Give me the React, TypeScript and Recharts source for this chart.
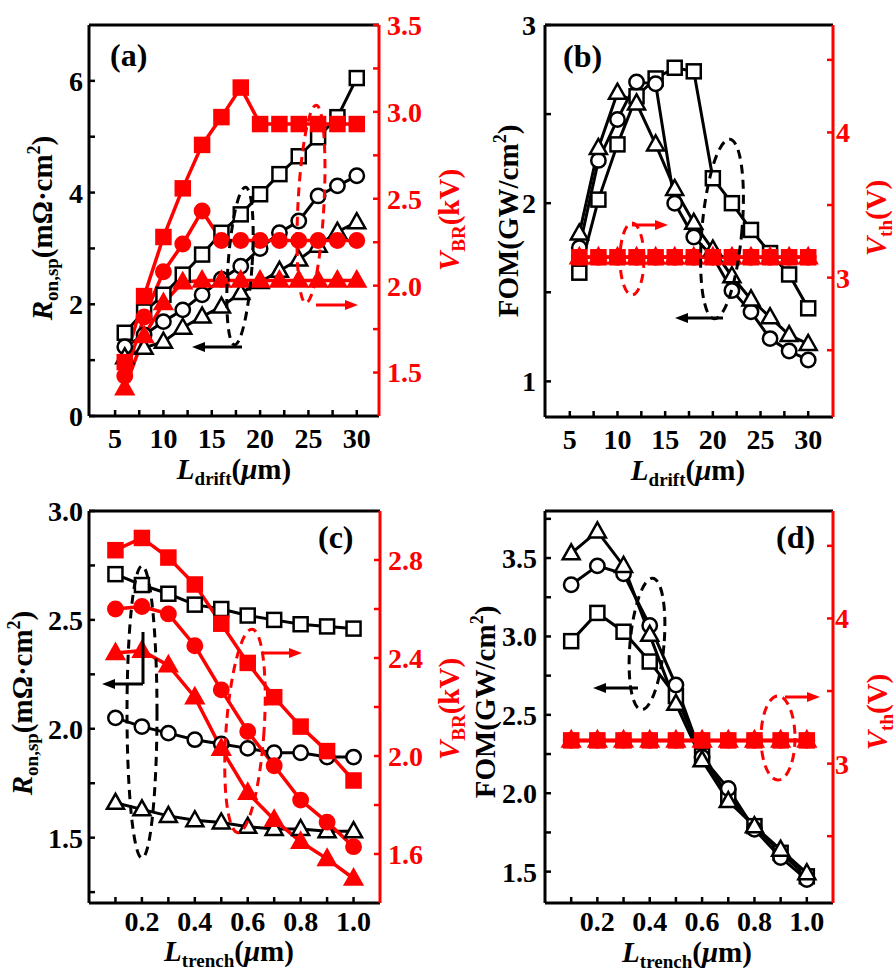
import React from 'react';
import { LineChart, Line, XAxis, YAxis } from 'recharts';

const FONT = '"Liberation Serif", "Times New Roman", serif';
const RED = '#ff0000';
const BLACK = '#000000';

// ---- (a)/(b): drift length sweep ----
const driftX = [6, 8, 10, 12, 14, 16, 18, 20, 22, 24, 26, 28, 30];
const ronDriftSq = [1.49, 1.87, 2.17, 2.53, 2.89, 3.28, 3.61, 3.97, 4.33, 4.65, 4.99, 5.35, 6.05];
const ronDriftCi = [1.24, 1.45, 1.69, 1.9, 2.17, 2.45, 2.68, 3.0, 3.28, 3.49, 3.94, 4.12, 4.3];
const ronDriftTr = [1.05, 1.22, 1.33, 1.58, 1.78, 1.96, 2.2, 2.4, 2.6, 2.8, 3.05, 3.3, 3.47];
const vbrDriftSq = [1.56, 1.94, 2.28, 2.56, 2.81, 2.97, 3.14, 2.93, 2.93, 2.93, 2.93, 2.93, 2.93];
const vbrDriftCi = [1.48, 1.82, 2.08, 2.24, 2.43, 2.26, 2.26, 2.26, 2.26, 2.26, 2.26, 2.26, 2.26];
const vbrDriftTr = [1.41, 1.71, 1.9, 2.02, 2.03, 2.03, 2.03, 2.03, 2.03, 2.03, 2.03, 2.03, 2.03];
const fomDriftSq = [1.61, 2.02, 2.33, 2.6, 2.7, 2.76, 2.74, 2.14, 2.0, 1.85, 1.72, 1.6, 1.41];
const fomDriftCi = [1.75, 2.24, 2.47, 2.68, 2.67, 2.0, 1.81, 1.7, 1.51, 1.39, 1.24, 1.17, 1.12];
const fomDriftTr = [1.83, 2.31, 2.62, 2.56, 2.33, 2.08, 1.89, 1.74, 1.59, 1.46, 1.36, 1.26, 1.21];
const vthDriftSq = [3.14, 3.14, 3.14, 3.14, 3.14, 3.14, 3.14, 3.14, 3.14, 3.14, 3.14, 3.14, 3.14];
const vthDriftCi = [3.14, 3.14, 3.14, 3.14, 3.14, 3.14, 3.14, 3.14, 3.14, 3.14, 3.14, 3.14, 3.14];
const vthDriftTr = [3.14, 3.14, 3.14, 3.14, 3.14, 3.14, 3.14, 3.14, 3.14, 3.14, 3.14, 3.14, 3.14];

// ---- (c)/(d): trench length sweep ----
const trenchX = [0.1, 0.2, 0.3, 0.4, 0.5, 0.6, 0.7, 0.8, 0.9, 1.0];
const ronTrenchSq = [2.71, 2.66, 2.62, 2.57, 2.55, 2.52, 2.5, 2.48, 2.47, 2.46];
const ronTrenchCi = [2.05, 2.01, 1.98, 1.95, 1.93, 1.91, 1.89, 1.89, 1.87, 1.87];
const ronTrenchTr = [1.66, 1.63, 1.6, 1.58, 1.57, 1.55, 1.54, 1.54, 1.53, 1.53];
const vbrTrenchSq = [2.84, 2.89, 2.81, 2.7, 2.54, 2.38, 2.24, 2.12, 2.02, 1.9];
const vbrTrenchCi = [2.6, 2.61, 2.58, 2.45, 2.27, 2.1, 1.96, 1.82, 1.73, 1.63];
const vbrTrenchTr = [2.42, 2.43, 2.37, 2.24, 2.03, 1.85, 1.74, 1.65, 1.58, 1.5];
const fomTrenchSq = [2.97, 3.15, 3.03, 2.84, 2.62, 2.24, 1.98, 1.79, 1.62, 1.47];
const fomTrenchCi = [3.33, 3.45, 3.4, 3.07, 2.69, 2.23, 2.03, 1.77, 1.59, 1.45];
const fomTrenchTr = [3.53, 3.67, 3.45, 3.01, 2.57, 2.21, 1.95, 1.79, 1.64, 1.49];
const vthTrenchSq = [3.16, 3.16, 3.16, 3.16, 3.16, 3.16, 3.16, 3.16, 3.16, 3.16];
const vthTrenchCi = [3.16, 3.16, 3.16, 3.16, 3.16, 3.16, 3.16, 3.16, 3.16, 3.16];
const vthTrenchTr = [3.16, 3.16, 3.16, 3.16, 3.16, 3.16, 3.16, 3.16, 3.16, 3.16];

// ---- ticks (major = labelled, minor = blank) ----
const driftMajor = [5, 10, 15, 20, 25, 30];
const driftMinor = [7.5, 12.5, 17.5, 22.5, 27.5];
const trenchMajor = [0.2, 0.4, 0.6, 0.8, 1.0];
const trenchMinor = [0.1, 0.3, 0.5, 0.7, 0.9];
const aLeftMajor = [0, 2, 4, 6];
const aLeftMinor = [1, 3, 5];
const aRightMajor = [1.5, 2.0, 2.5, 3.0, 3.5];
const aRightMinor = [1.75, 2.25, 2.75, 3.25];
const bLeftMajor = [1, 2, 3];
const bLeftMinor = [1.5, 2.5];
const vthMajor = [3, 4];
const vthMinor = [2.5, 3.5, 4.5];
const cLeftMajor = [1.5, 2.0, 2.5, 3.0];
const cLeftMinor = [1.25, 1.75, 2.25, 2.75];
const cRightMajor = [1.6, 2.0, 2.4, 2.8];
const cRightMinor = [1.8, 2.2, 2.6];
const dLeftMajor = [1.5, 2.0, 2.5, 3.0, 3.5];
const dLeftMinor = [1.75, 2.25, 2.75, 3.25, 3.75];

type Shape = 'square' | 'circle' | 'triangle';
interface Series { key: string; axis: 'l' | 'r'; color: string; shape: Shape; filled: boolean }

const zip = (xs: number[], cols: Record<string, number[]>) =>
  xs.map((x, i) => {
    const row: Record<string, number> = { x };
    Object.keys(cols).forEach((k) => { row[k] = cols[k][i]; });
    return row;
  });

const makeDot = (shape: Shape, color: string, filled: boolean) => (props: any) => {
  const { cx, cy, index } = props;
  const k = `d${index}`;
  if (cx == null || cy == null) return <g key={k} />;
  const fill = filled ? color : '#ffffff';
  const sw = 2.5;
  if (shape === 'square')
    return <rect key={k} x={cx - 7} y={cy - 7} width={14} height={14} fill={fill} stroke={color} strokeWidth={sw} />;
  if (shape === 'circle')
    return <circle key={k} cx={cx} cy={cy} r={7.2} fill={fill} stroke={color} strokeWidth={sw} />;
  return (
    <polygon key={k} points={`${cx},${cy - 9} ${cx - 8.5},${cy + 6} ${cx + 8.5},${cy + 6}`}
      fill={fill} stroke={color} strokeWidth={sw} strokeLinejoin="miter" />
  );
};

const blackSet = (sq: string, ci: string, tr: string): Series[] => [
  { key: sq, axis: 'l', color: BLACK, shape: 'square', filled: false },
  { key: ci, axis: 'l', color: BLACK, shape: 'circle', filled: false },
  { key: tr, axis: 'l', color: BLACK, shape: 'triangle', filled: false },
];
const redSet = (sq: string, ci: string, tr: string): Series[] => [
  { key: sq, axis: 'r', color: RED, shape: 'square', filled: true },
  { key: ci, axis: 'r', color: RED, shape: 'circle', filled: true },
  { key: tr, axis: 'r', color: RED, shape: 'triangle', filled: true },
];

interface PanelProps {
  left: number; top: number;
  plot: { l: number; r: number; t: number; b: number };
  data: Record<string, number>[];
  series: Series[];
  xDomain: number[]; xMajor: number[]; xMinor: number[]; xFmt: (v: number) => string; xMargin: number;
  lDomain: number[]; lMajor: number[]; lMinor: number[]; lFmt: (v: number) => string; lMargin: number;
  rDomain: number[]; rMajor: number[]; rMinor: number[]; rFmt: (v: number) => string; rMargin: number;
}

const tickFont = { fontSize: 28, fontFamily: FONT, fontWeight: 'bold' as const };
const sortNum = (a: number[]) => [...a].sort((p, q) => p - q);

const Panel: React.FC<PanelProps> = (p) => {
  const fmt = (major: number[], f: (v: number) => string) => (v: number) => (major.includes(v) ? f(v) : '');
  return (
    <div style={{ position: 'absolute', left: p.left, top: p.top, width: 448, height: 488 }}>
      <LineChart width={448} height={488} data={p.data}
        margin={{ top: p.plot.t - 1, right: 0, bottom: 0, left: 0 }}>
        <XAxis xAxisId="b" dataKey="x" type="number" domain={p.xDomain} allowDataOverflow
          ticks={sortNum([...p.xMajor, ...p.xMinor])} interval={0} height={p.plot.b}
          tickSize={-6} tickMargin={p.xMargin} tickFormatter={fmt(p.xMajor, p.xFmt)}
          axisLine={{ stroke: BLACK, strokeWidth: 3 }} tickLine={{ stroke: BLACK, strokeWidth: 2.5 }}
          tick={{ ...tickFont, fill: BLACK }} />
        <XAxis xAxisId="t" orientation="top" dataKey="x" type="number" domain={p.xDomain} allowDataOverflow
          height={1} tick={false} tickLine={false} axisLine={{ stroke: BLACK, strokeWidth: 3 }} />
        <YAxis yAxisId="l" type="number" domain={p.lDomain} allowDataOverflow width={p.plot.l}
          ticks={sortNum([...p.lMajor, ...p.lMinor])} interval={0}
          tickSize={-6} tickMargin={p.lMargin} tickFormatter={fmt(p.lMajor, p.lFmt)}
          axisLine={{ stroke: BLACK, strokeWidth: 3 }} tickLine={{ stroke: BLACK, strokeWidth: 2.5 }}
          tick={{ ...tickFont, fill: BLACK }} />
        <YAxis yAxisId="r" orientation="right" type="number" domain={p.rDomain} allowDataOverflow width={p.plot.r}
          ticks={sortNum([...p.rMajor, ...p.rMinor])} interval={0}
          tickSize={-6} tickMargin={p.rMargin} tickFormatter={fmt(p.rMajor, p.rFmt)}
          axisLine={{ stroke: RED, strokeWidth: 3 }} tickLine={{ stroke: RED, strokeWidth: 2.5 }}
          tick={{ ...tickFont, fill: RED }} />
        {p.series.map((s) => (
          <Line key={s.key} xAxisId="b" yAxisId={s.axis} dataKey={s.key} type="linear"
            stroke={s.color} strokeWidth={s.filled ? 3.5 : 3}
            dot={makeDot(s.shape, s.color, s.filled)} activeDot={false}
            isAnimationActive={false} legendType="none" />
        ))}
      </LineChart>
    </div>
  );
};

const int = (v: number) => String(v);
const one = (v: number) => v.toFixed(1);

const dataA = zip(driftX, { sq: ronDriftSq, ci: ronDriftCi, tr: ronDriftTr, rsq: vbrDriftSq, rci: vbrDriftCi, rtr: vbrDriftTr });
const dataB = zip(driftX, { sq: fomDriftSq, ci: fomDriftCi, tr: fomDriftTr, rsq: vthDriftSq, rci: vthDriftCi, rtr: vthDriftTr });
const dataC = zip(trenchX, { sq: ronTrenchSq, ci: ronTrenchCi, tr: ronTrenchTr, rsq: vbrTrenchSq, rci: vbrTrenchCi, rtr: vbrTrenchTr });
const dataD = zip(trenchX, { sq: fomTrenchSq, ci: fomTrenchCi, tr: fomTrenchTr, rsq: vthTrenchSq, rci: vthTrenchCi, rtr: vthTrenchTr });
const allSeries = [...blackSet('sq', 'ci', 'tr'), ...redSet('rsq', 'rci', 'rtr')];

// --- overlay helpers: titles and dashed annotation ---
const titleProps = { fontFamily: FONT, fontWeight: 'bold' as const, fontSize: 29, textAnchor: 'middle' as const };

const RonTitle = ({ x, y }: { x: number; y: number }) => (
  <text {...titleProps} fill={BLACK} transform={`translate(${x},${y}) rotate(-90)`}>
    <tspan fontStyle="italic">R</tspan>
    <tspan fontSize={19} dy={6}>on,sp</tspan>
    <tspan dy={-6}>(mΩ·cm</tspan>
    <tspan fontSize={18} dy={-12}>2</tspan>
    <tspan dy={12}>)</tspan>
  </text>
);
const FomTitle = ({ x, y }: { x: number; y: number }) => (
  <text {...titleProps} fill={BLACK} transform={`translate(${x},${y}) rotate(-90)`}>
    <tspan>FOM(GW/cm</tspan>
    <tspan fontSize={18} dy={-12}>2</tspan>
    <tspan dy={12}>)</tspan>
  </text>
);
const VTitle = ({ x, y, sub, unit }: { x: number; y: number; sub: string; unit: string }) => (
  <text {...titleProps} fill={RED} transform={`translate(${x},${y}) rotate(-90)`}>
    <tspan fontStyle="italic">V</tspan>
    <tspan fontSize={19} dy={6}>{sub}</tspan>
    <tspan dy={-6}>({unit})</tspan>
  </text>
);
const LTitle = ({ x, y, sub }: { x: number; y: number; sub: string }) => (
  <text {...titleProps} fill={BLACK} x={x} y={y}>
    <tspan fontStyle="italic">L</tspan>
    <tspan fontSize={19} dy={6}>{sub}</tspan>
    <tspan dy={-6}>(</tspan>
    <tspan fontStyle="italic">μ</tspan>
    <tspan>m)</tspan>
  </text>
);

const Loop = ({ cx, cy, rx, ry, rot, color }: { cx: number; cy: number; rx: number; ry: number; rot: number; color: string }) => (
  <ellipse cx={cx} cy={cy} rx={rx} ry={ry} transform={`rotate(${rot} ${cx} ${cy})`}
    fill="none" stroke={color} strokeWidth={3} strokeDasharray="9 6" />
);
const Arrow = ({ x1, x2, y, color }: { x1: number; x2: number; y: number; color: string }) => {
  const d = x2 > x1 ? -1 : 1;
  return (
    <g>
      <line x1={x1} y1={y} x2={x2 + d * 8} y2={y} stroke={color} strokeWidth={3} />
      <polygon points={`${x2},${y} ${x2 + d * 13},${y - 5} ${x2 + d * 13},${y + 5}`} fill={color} />
    </g>
  );
};

const App: React.FC = () => (
  <div style={{ position: 'absolute', left: 0, top: 0, width: 896, height: 976, background: '#fff', overflow: 'hidden' }}>
    <Panel left={0} top={0} plot={{ l: 89, r: 69, t: 25, b: 72 }} data={dataA} series={allSeries}
      xDomain={[2.3, 32.3]} xMajor={driftMajor} xMinor={driftMinor} xFmt={int} xMargin={18}
      lDomain={[0, 7]} lMajor={aLeftMajor} lMinor={aLeftMinor} lFmt={int} lMargin={12}
      rDomain={[1.25, 3.5]} rMajor={aRightMajor} rMinor={aRightMinor} rFmt={one} rMargin={14} />
    <Panel left={448} top={0} plot={{ l: 97, r: 63, t: 25, b: 71 }} data={dataB} series={allSeries}
      xDomain={[2.4, 32.6]} xMajor={driftMajor} xMinor={driftMinor} xFmt={int} xMargin={18}
      lDomain={[0.8, 3]} lMajor={bLeftMajor} lMinor={bLeftMinor} lFmt={int} lMargin={15}
      rDomain={[2.04, 4.74]} rMajor={vthMajor} rMinor={vthMinor} rFmt={int} rMargin={9} />
    <Panel left={0} top={488} plot={{ l: 89, r: 68, t: 23, b: 73 }} data={dataC} series={allSeries}
      xDomain={[0, 1.1]} xMajor={trenchMajor} xMinor={trenchMinor} xFmt={one} xMargin={14}
      lDomain={[1.2, 3.0]} lMajor={cLeftMajor} lMinor={cLeftMinor} lFmt={one} lMargin={12}
      rDomain={[1.4, 3.0]} rMajor={cRightMajor} rMinor={cRightMinor} rFmt={one} rMargin={14} />
    <Panel left={448} top={488} plot={{ l: 97, r: 63, t: 23, b: 73 }} data={dataD} series={allSeries}
      xDomain={[0, 1.1]} xMajor={trenchMajor} xMinor={trenchMinor} xFmt={one} xMargin={14}
      lDomain={[1.3, 3.8]} lMajor={dLeftMajor} lMinor={dLeftMinor} lFmt={one} lMargin={14}
      rDomain={[2.04, 4.74]} rMajor={vthMajor} rMinor={vthMinor} rFmt={int} rMargin={8} />

    <svg width={896} height={976} style={{ position: 'absolute', left: 0, top: 0, pointerEvents: 'none' }}>
      {/* axis titles */}
      <RonTitle x={52} y={228} />
      <VTitle x={459} y={220} sub="BR" unit="kV" />
      <FomTitle x={518} y={221} />
      <VTitle x={886} y={218} sub="th" unit="V" />
      <RonTitle x={32} y={703} />
      <VTitle x={459} y={709} sub="BR" unit="kV" />
      <FomTitle x={495} y={702} />
      <VTitle x={887} y={712} sub="th" unit="V" />
      <LTitle x={234} y={479} sub="drift" />
      <LTitle x={688} y={480} sub="drift" />
      <LTitle x={229} y={961} sub="trench" />
      <LTitle x={687} y={962} sub="trench" />

      {/* panel labels */}
      <text x={110} y={66} fontFamily={FONT} fontWeight="bold" fontSize={32} fill={BLACK}>(a)</text>
      <text x={563} y={67} fontFamily={FONT} fontWeight="bold" fontSize={32} fill={BLACK}>(b)</text>
      <text x={318} y={548} fontFamily={FONT} fontWeight="bold" fontSize={32} fill={BLACK}>(c)</text>
      <text x={776} y={548} fontFamily={FONT} fontWeight="bold" fontSize={32} fill={BLACK}>(d)</text>

      {/* (a) */}
      <Loop cx={240} cy={266} rx={12} ry={79} rot={4} color={BLACK} />
      <Arrow x1={242} x2={192} y={347} color={BLACK} />
      <Loop cx={311} cy={204} rx={13} ry={99} rot={3} color={RED} />
      <Arrow x1={316} x2={358} y={305} color={RED} />
      {/* (b) */}
      <Loop cx={722} cy={229} rx={20} ry={90} rot={5} color={BLACK} />
      <Arrow x1={723} x2={675} y={318} color={BLACK} />
      <Loop cx={632} cy={259} rx={12} ry={36} rot={0} color={RED} />
      <Arrow x1={632} x2={668} y={225} color={RED} />
      {/* (c) */}
      <Loop cx={142} cy={712} rx={15} ry={146} rot={0} color={BLACK} />
      <line x1={143} y1={632} x2={143} y2={684} stroke={BLACK} strokeWidth={3} />
      <Arrow x1={143} x2={102} y={684} color={BLACK} />
      <Loop cx={245} cy={731} rx={19} ry={102} rot={4} color={RED} />
      <Arrow x1={262} x2={302} y={653} color={RED} />
      {/* (d) */}
      <Loop cx={647} cy={644} rx={17} ry={66} rot={5} color={BLACK} />
      <Arrow x1={638} x2={593} y={688} color={BLACK} />
      <Loop cx={778} cy={738} rx={17} ry={42} rot={0} color={RED} />
      <Arrow x1={785} x2={820} y={697} color={RED} />
    </svg>
  </div>
);

export default App;
